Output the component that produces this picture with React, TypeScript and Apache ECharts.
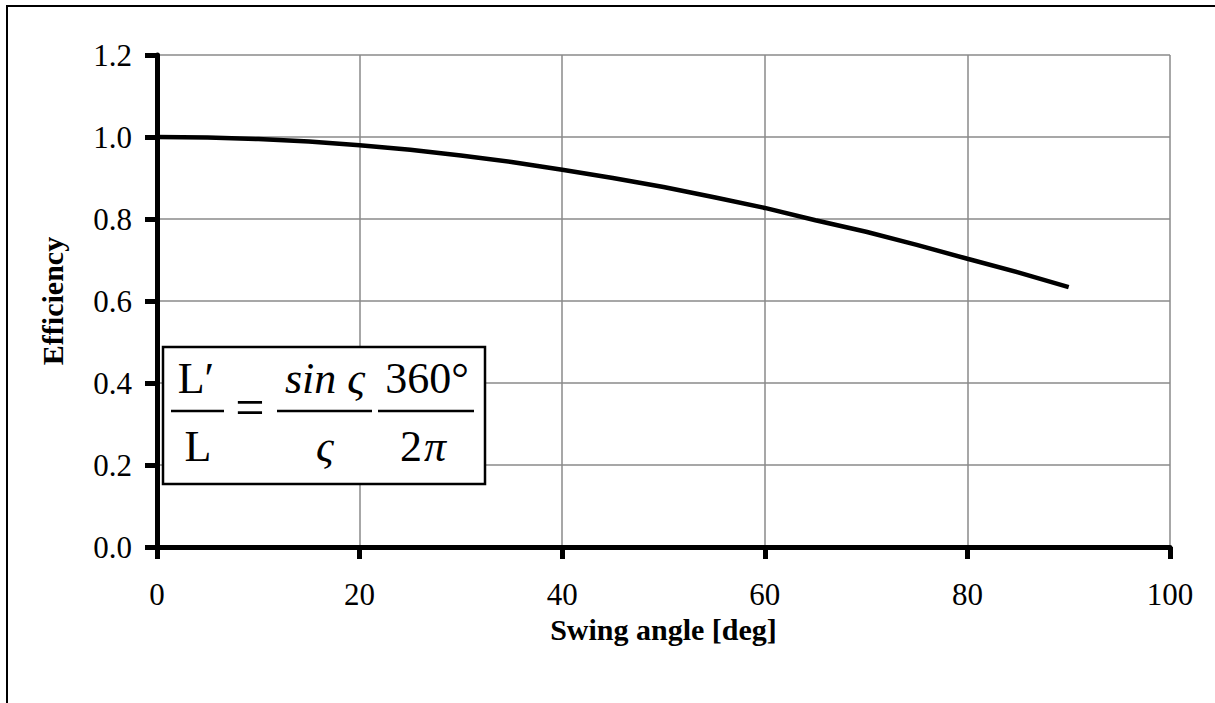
import React, { useEffect, useRef } from "react";
import * as echarts from "echarts";

const swingAngles = [0, 5, 10, 15, 20, 25, 30, 35, 40, 45, 50, 55, 60, 65, 70, 75, 80, 85, 90];
const efficiency = [1.0, 0.999, 0.995, 0.989, 0.98, 0.969, 0.955, 0.939, 0.92, 0.9, 0.878, 0.853, 0.827, 0.797, 0.769, 0.737, 0.703, 0.67, 0.634];
const xTitle = "Swing angle [deg]";
const yTitle = "Efficiency";

const SERIF = "'Liberation Serif', 'Times New Roman', serif";

export default function App() {
  const ref = useRef<HTMLDivElement>(null);
  useEffect(() => {
    if (!ref.current) return;
    const chart = echarts.init(ref.current, null, { renderer: "svg" });
    const fs = 44;
    const font = `${fs}px ${SERIF}`;
    const ifont = `italic ${fs}px ${SERIF}`;
    const mid = (baseline: number) => baseline - 0.34 * fs;
    chart.setOption({
      animation: false,
      backgroundColor: "#ffffff",
      grid: { left: 157, right: 45, top: 55, bottom: 156 },
      xAxis: {
        type: "value",
        min: 0,
        max: 100,
        interval: 20,
        name: xTitle,
        nameLocation: "middle",
        nameGap: 66,
        nameTextStyle: { fontFamily: SERIF, fontWeight: "bold", fontSize: 30, color: "#000" },
        axisLine: { show: true, onZero: false, lineStyle: { color: "#000", width: 5 } },
        axisTick: { show: true, length: 12, lineStyle: { color: "#000", width: 5 } },
        axisLabel: { fontFamily: SERIF, fontSize: 31, color: "#000", margin: 32 },
        splitLine: { show: true, lineStyle: { color: "#8a8a8a", width: 1.5 } },
      },
      yAxis: {
        type: "value",
        min: 0,
        max: 1.2,
        interval: 0.2,
        name: yTitle,
        nameLocation: "middle",
        nameGap: 90,
        nameTextStyle: { fontFamily: SERIF, fontWeight: "bold", fontSize: 30, color: "#000" },
        axisLine: { show: true, lineStyle: { color: "#000", width: 5 } },
        axisTick: { show: true, length: 12, lineStyle: { color: "#000", width: 5 } },
        axisLabel: {
          fontFamily: SERIF,
          fontSize: 31,
          color: "#000",
          margin: 25,
          formatter: (v: number) => v.toFixed(1),
        },
        splitLine: { show: true, lineStyle: { color: "#8a8a8a", width: 1.5 } },
      },
      series: [
        {
          type: "line",
          data: swingAngles.map((a, i) => [a, efficiency[i]]),
          showSymbol: false,
          symbol: "none",
          lineStyle: { color: "#000", width: 4.5 },
          z: 3,
        },
      ],
      graphic: [
        {
          type: "rect",
          shape: { x: 7, y: 6, width: 1400, height: 900 },
          style: { fill: "none", stroke: "#000", lineWidth: 2 },
          silent: true,
          z: 100,
        },
        {
          type: "rect",
          shape: { x: 163, y: 347, width: 322, height: 137 },
          style: { fill: "#fff", stroke: "#000", lineWidth: 2.5 },
          z: 100,
        },
        { type: "line", shape: { x1: 171, y1: 411, x2: 224, y2: 411 }, style: { stroke: "#000", lineWidth: 2.5 }, z: 101 },
        { type: "line", shape: { x1: 277, y1: 411, x2: 372, y2: 411 }, style: { stroke: "#000", lineWidth: 2.5 }, z: 101 },
        { type: "line", shape: { x1: 378, y1: 411, x2: 474, y2: 411 }, style: { stroke: "#000", lineWidth: 2.5 }, z: 101 },
        { type: "text", z: 101, style: { text: "L\u2032", x: 196, y: mid(393), font, fill: "#000", align: "center", verticalAlign: "middle" } },
        { type: "text", z: 101, style: { text: "L", x: 198, y: mid(461), font, fill: "#000", align: "center", verticalAlign: "middle" } },
        { type: "text", z: 101, style: { text: "=", x: 250, y: 407, font: `52px ${SERIF}`, fill: "#000", align: "center", verticalAlign: "middle" } },
        { type: "text", z: 101, style: { text: "sin \u03c2", x: 325, y: mid(393), font: ifont, fill: "#000", align: "center", verticalAlign: "middle" } },
        { type: "text", z: 101, style: { text: "\u03c2", x: 325, y: mid(461), font: ifont, fill: "#000", align: "center", verticalAlign: "middle" } },
        { type: "text", z: 101, style: { text: "360\u00b0", x: 427, y: mid(393), font, fill: "#000", align: "center", verticalAlign: "middle" } },
        { type: "text", z: 101, style: { text: "2", x: 400, y: mid(461), font, fill: "#000", align: "left", verticalAlign: "middle" } },
        { type: "text", z: 101, style: { text: "\u03c0", x: 424, y: mid(461), font: ifont, fill: "#000", align: "left", verticalAlign: "middle" } },
      ],
    });
    return () => chart.dispose();
  }, []);
  return (
    <div
      ref={ref}
      style={{ position: "fixed", left: 0, top: 0, width: 1215, height: 703, background: "#fff" }}
    />
  );
}
